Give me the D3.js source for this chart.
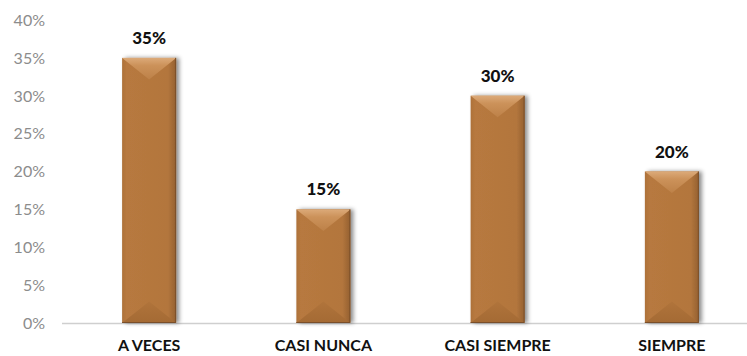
<!DOCTYPE html>
<html>
<head>
<meta charset="utf-8">
<script src="https://cdn.jsdelivr.net/npm/d3@7"></script>
<style>
  html, body { margin: 0; padding: 0; background: #fff; }
  svg { display: block; }
</style>
</head>
<body>
<svg id="chart" width="747" height="356"></svg>
<script>
// Survey response shares
const categories = ["A VECES", "CASI NUNCA", "CASI SIEMPRE", "SIEMPRE"];
const shares = [0.35, 0.15, 0.30, 0.20];
const tickValues = [0, 0.05, 0.10, 0.15, 0.20, 0.25, 0.30, 0.35, 0.40];

const svg = d3.select("#chart");
const W = 747, H = 356;

const x = d3.scaleBand()
  .domain(categories)
  .range([62, 759])
  .paddingInner(0.69)
  .paddingOuter(0.345);

const y = d3.scaleLinear().domain([0, 0.4]).range([323, 20]);

const defs = svg.append("defs");

// soft shadow on the right side of each bar
const f = defs.append("filter").attr("id", "shadow")
  .attr("x", "-20%").attr("y", "-10%").attr("width", "150%").attr("height", "120%");
f.append("feDropShadow").attr("dx", 3).attr("dy", 0).attr("stdDeviation", 2)
  .attr("flood-color", "#000").attr("flood-opacity", 0.45);

// body shading: a touch darker toward the right edge
const gBody = defs.append("linearGradient").attr("id", "body")
  .attr("x1", 0).attr("x2", 1).attr("y1", 0).attr("y2", 0);
gBody.append("stop").attr("offset", 0).attr("stop-color", "#ad7139");
gBody.append("stop").attr("offset", 0.08).attr("stop-color", "#b7793f");
gBody.append("stop").attr("offset", 0.85).attr("stop-color", "#b3763d");
gBody.append("stop").attr("offset", 1).attr("stop-color", "#946031");

// top bevel: lighter, fading downward
const gTop = defs.append("linearGradient").attr("id", "bevelTop")
  .attr("x1", 0).attr("x2", 0).attr("y1", 0).attr("y2", 1);
gTop.append("stop").attr("offset", 0).attr("stop-color", "#dcaa79");
gTop.append("stop").attr("offset", 0.35).attr("stop-color", "#cc925a");
gTop.append("stop").attr("offset", 1).attr("stop-color", "#bd8148");

// bottom bevel: slightly darker
const gBot = defs.append("linearGradient").attr("id", "bevelBot")
  .attr("x1", 0).attr("x2", 0).attr("y1", 0).attr("y2", 1);
gBot.append("stop").attr("offset", 0).attr("stop-color", "#b0743b");
gBot.append("stop").attr("offset", 1).attr("stop-color", "#a46a34");

// y-axis tick labels
svg.append("g").selectAll("text")
  .data(tickValues)
  .join("text")
  .attr("x", 45)
  .attr("y", d => y(d))
  .attr("dy", "0.36em")
  .attr("text-anchor", "end")
  .attr("font-family", "Lato, 'Open Sans', sans-serif")
  .attr("font-weight", 400)
  .attr("font-size", 16)
  .attr("fill", "#8c8c8c")
  .text(d3.format(".0%"));

// baseline
svg.append("line")
  .attr("x1", 62).attr("x2", W)
  .attr("y1", y(0) + 0.5).attr("y2", y(0) + 0.5)
  .attr("stroke", "#cfcfcf").attr("stroke-width", 1.5);

const data = categories.map((c, i) => ({ c, v: shares[i] }));
const bw = x.bandwidth();
const bevel = bw * 0.4;

const bars = svg.append("g").selectAll("g")
  .data(data)
  .join("g");

bars.append("rect")
  .attr("x", d => x(d.c))
  .attr("y", d => y(d.v))
  .attr("width", bw)
  .attr("height", d => y(0) - y(d.v))
  .attr("fill", "url(#body)")
  .attr("filter", "url(#shadow)");

bars.append("polygon")
  .attr("points", d => {
    const x0 = x(d.c), x1 = x0 + bw, t = y(d.v), cx = x0 + bw / 2;
    return [[x0, t], [x1, t], [cx, t + bevel]].join(" ");
  })
  .attr("fill", "url(#bevelTop)");

bars.append("polygon")
  .attr("points", d => {
    const x0 = x(d.c), x1 = x0 + bw, b = y(0), cx = x0 + bw / 2;
    return [[x0, b], [x1, b], [cx, b - bevel]].join(" ");
  })
  .attr("fill", "url(#bevelBot)");

// darker rim along right and bottom edges
bars.append("path")
  .attr("d", d => {
    const x0 = x(d.c), x1 = x0 + bw, t = y(d.v), b = y(0);
    return `M${x1 - 0.5},${t} L${x1 - 0.5},${b - 0.5} L${x0},${b - 0.5}`;
  })
  .attr("fill", "none")
  .attr("stroke", "#7a4f2a")
  .attr("stroke-width", 1);

// value labels
bars.append("text")
  .attr("x", d => x(d.c) + bw / 2)
  .attr("y", d => y(d.v) - 14)
  .attr("text-anchor", "middle")
  .attr("font-family", "Lato, 'Open Sans', sans-serif")
  .attr("font-weight", 900)
  .attr("font-size", 17)
  .attr("fill", "#111")
  .text(d => d3.format(".0%")(d.v));

// category labels
svg.append("g").selectAll("text")
  .data(categories)
  .join("text")
  .attr("x", d => x(d) + bw / 2)
  .attr("y", 351)
  .attr("text-anchor", "middle")
  .attr("font-family", "Lato, 'Open Sans', sans-serif")
  .attr("font-weight", 700)
  .attr("font-size", 16)
  .attr("fill", "#111")
  .text(d => d);
</script>
</body>
</html>
